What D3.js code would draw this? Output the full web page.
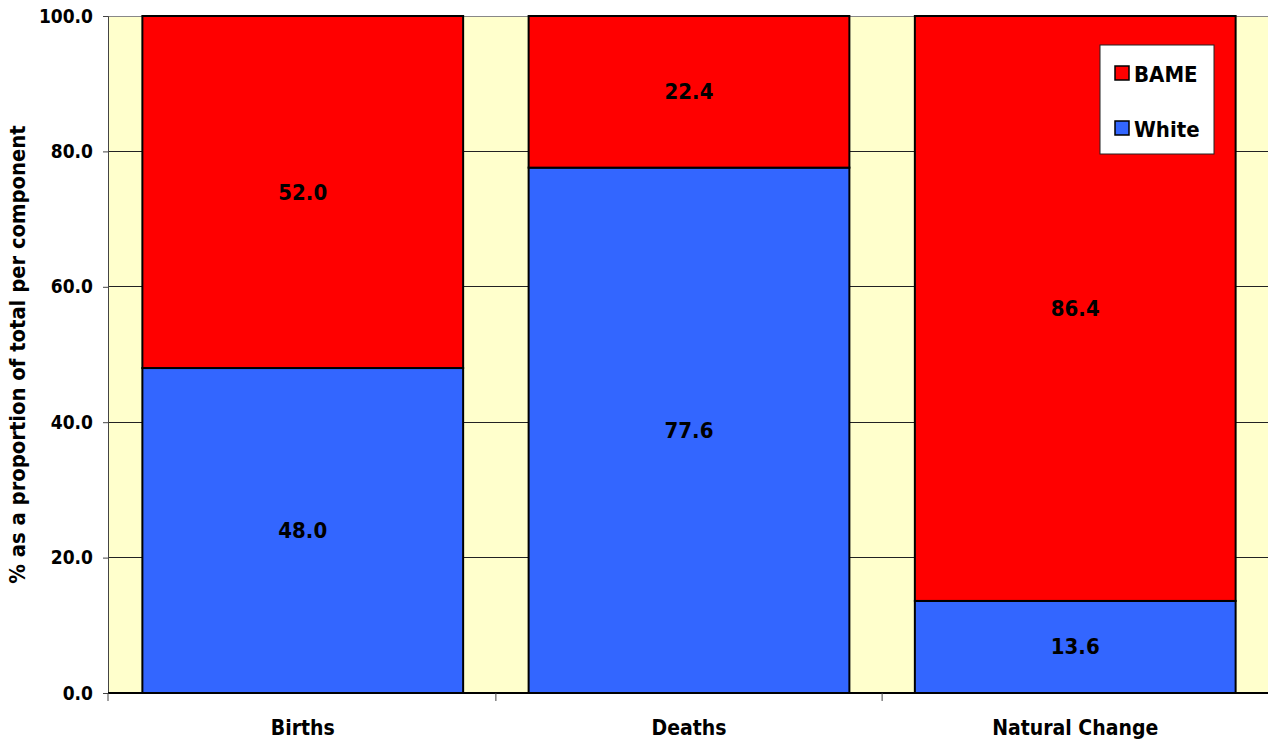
<!DOCTYPE html>
<html><head><meta charset="utf-8">
<script src="https://cdn.jsdelivr.net/npm/d3@7"></script>
<style>body{margin:0;background:#fff;} text{font-family:"DejaVu Sans Condensed","DejaVu Sans",Verdana,sans-serif;font-weight:bold;}</style>
</head><body>
<svg id="c" width="1268" height="747"></svg>
<script>
const categories = ["Births", "Deaths", "Natural Change"];
const whiteValues = [48.0, 77.6, 13.6];
const bameValues = [52.0, 22.4, 86.4];
const seriesNames = ["White", "BAME"];
const yTicks = [0, 20, 40, 60, 80, 100];
const colors = {White: "#3366FF", BAME: "#FF0000"};

const svg = d3.select("#c");
const m = {left: 108, top: 16, right: 0, bottom: 54};
const W = 1268, H = 747;
const x = d3.scaleBand().domain(categories).range([m.left, W + 2]).paddingInner(0.1695).paddingOuter(0.089);
const y = d3.scaleLinear().domain([0, 100]).range([H - m.bottom, m.top]);

svg.append("rect").attr("x", m.left).attr("y", m.top).attr("width", W - m.right - m.left).attr("height", y(0) - m.top).attr("fill", "#FFFFCC");

svg.append("g").selectAll("line").data(yTicks.slice(1)).join("line")
  .attr("x1", m.left).attr("x2", W).attr("y1", d => y(d)).attr("y2", d => y(d))
  .attr("stroke", d => d === 100 ? "#888" : "#222").attr("stroke-width", 1).attr("shape-rendering", "crispEdges");

const data = categories.map((c, i) => ({cat: c, White: whiteValues[i], BAME: bameValues[i]}));
const stack = d3.stack().keys(seriesNames)(data);

const g = svg.append("g");
stack.forEach(s => {
  g.selectAll(null).data(s).join("rect")
    .attr("x", d => x(d.data.cat)).attr("width", x.bandwidth())
    .attr("y", d => y(d[1])).attr("height", d => y(d[0]) - y(d[1]))
    .attr("fill", colors[s.key]).attr("stroke", "#000").attr("stroke-width", 2);
  g.selectAll(null).data(s).join("text")
    .attr("x", d => x(d.data.cat) + x.bandwidth() / 2)
    .attr("y", d => (y(d[0]) + y(d[1])) / 2)
    .attr("text-anchor", "middle").attr("dominant-baseline", "central")
    .attr("font-size", 22).attr("fill", "#000")
    .text(d => (d[1] - d[0]).toFixed(1));
});

// y axis
const ya = svg.append("g").attr("transform", `translate(${m.left},0)`)
  .call(d3.axisLeft(y).tickValues(yTicks).tickFormat(d3.format(".1f")).tickSize(5).tickPadding(10));
ya.select(".domain").attr("stroke", "#444");
ya.selectAll(".tick line").attr("stroke", "#444");
ya.selectAll("text").attr("font-size", 19).attr("fill", "#000")
  .style("font-family", "'DejaVu Sans Condensed','DejaVu Sans'").style("font-weight", "bold");

// x axis
const xa = svg.append("g").attr("transform", `translate(0,${y(0)})`);
xa.append("line").attr("x1", m.left).attr("x2", W).attr("y1", 0).attr("y2", 0).attr("stroke", "#000").attr("stroke-width", 2);
const bounds = categories.slice(1).map(c => x(c) - x.step() * x.paddingInner() / 2);
xa.selectAll("line.tk").data([m.left, ...bounds]).join("line").attr("class", "tk")
  .attr("x1", d => d).attr("x2", d => d).attr("y1", 0).attr("y2", 8).attr("stroke", "#444");
xa.selectAll("text").data(categories).join("text")
  .attr("x", d => x(d) + x.bandwidth() / 2).attr("y", 42)
  .attr("text-anchor", "middle").attr("font-size", 21).attr("fill", "#000").text(d => d);

svg.append("text").attr("transform", `translate(25,${(y(0) + y(100)) / 2}) rotate(-90)`)
  .attr("text-anchor", "middle").attr("font-size", 21.8).attr("fill", "#000")
  .text("% as a proportion of total per component");

// legend
const lg = svg.append("g").attr("transform", "translate(1100,45)");
lg.append("rect").attr("width", 114).attr("height", 109).attr("fill", "#fff").attr("stroke", "#222");
["BAME", "White"].forEach((k, i) => {
  lg.append("rect").attr("x", 15).attr("y", 21 + i * 55).attr("width", 14).attr("height", 14)
    .attr("fill", colors[k]).attr("stroke", "#000").attr("stroke-width", 1.5);
  lg.append("text").attr("x", 34).attr("y", 29 + i * 55).attr("dominant-baseline", "central")
    .attr("font-size", 22).attr("fill", "#000").text(k);
});
</script>
</body></html>
